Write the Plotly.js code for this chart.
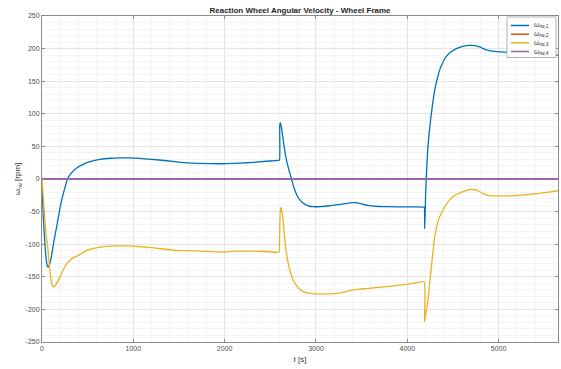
<!DOCTYPE html>
<html>
<head>
<meta charset="utf-8">
<script src="https://cdn.plot.ly/plotly-3.0.1.min.js"></script>
<style>
  html, body { margin: 0; padding: 0; background: #fff; }
  #chart { width: 561px; height: 369px; }
</style>
</head>
<body>
<div id="chart"></div>
<script>
// Wheel 1 angular velocity [rpm] vs time [s]
const t1 = [0, 15, 30, 45, 60, 70, 85, 100, 120, 140, 161, 190, 216, 250, 279, 320, 380, 450, 525, 635, 750, 853, 960,
  1072, 1200, 1364, 1500, 1655, 1850, 2020, 2170, 2312, 2450, 2585, 2600,
  2604, 2612, 2625, 2640, 2660, 2677, 2700, 2732, 2768, 2795, 2823, 2860, 2896, 2930, 2968, 3050, 3151, 3280,
  3406, 3450, 3479, 3530, 3589, 3680, 3771, 4000, 4180, 4186,
  4190, 4195, 4200, 4212, 4226, 4245, 4264, 4280, 4300, 4325, 4354, 4390, 4428, 4480, 4537, 4610, 4683, 4740,
  4792, 4830, 4866, 4930, 5011, 5100, 5193, 5372, 5500, 5650];
const w1 = [-12, -60, -95, -122, -134, -135, -130, -121, -104, -88, -73, -50, -32, -14, 0, 9, 17, 22.5, 26.5, 30, 31.8, 32.5, 32.4,
  31.7, 30.2, 28, 26, 24.2, 23.5, 23.5, 24.3, 25.6, 27.2, 28.5, 29,
  84, 86, 76, 61, 42, 29, 16, 0, -17, -26, -32, -37, -40, -41.8, -42.5, -42.3, -41, -38.5,
  -36.3, -36.5, -37.3, -39.5, -41, -42.2, -42.5, -42.7, -43, -43,
  -76, -55, -25, 15, 49.5, 78, 101, 118, 136, 152, 167, 179, 188, 195, 200, 203.5, 205, 204.5,
  202.5, 200, 198, 196, 195, 194.5, 194, 192, 191, 190];

// Wheel 2 angular velocity [rpm]
const t2 = [0, 5650];
const w2 = [0, 0];

// Wheel 3 angular velocity [rpm]
const t3 = [0, 15, 29, 45, 66, 80, 95, 108, 120, 135, 150, 175, 200, 230, 277, 340, 416, 470, 525, 620, 744, 850, 927,
  1050, 1182, 1300, 1437, 1600, 1729, 1850, 1984, 2040, 2093, 2200, 2312, 2450, 2596,
  2600, 2606, 2612, 2620, 2634, 2645, 2659, 2675, 2695, 2720, 2750, 2785, 2823, 2870, 2932, 2990, 3042, 3130,
  3224, 3320, 3406, 3480, 3553, 3660, 3771, 3880, 3990, 4090, 4183,
  4188, 4205, 4226, 4245, 4264, 4282, 4300, 4325, 4354, 4391, 4430, 4464, 4500, 4550, 4609, 4655, 4701, 4740,
  4774, 4820, 4865, 4920, 4975, 5080, 5193, 5320, 5449, 5550, 5650];
const w3 = [0, -30, -58, -85, -109, -132, -150, -161, -165, -165, -162, -157, -149, -140, -129, -121, -116, -111, -108, -105, -103, -102.5, -102.7,
  -103.5, -105, -107, -109, -110, -110.5, -111.5, -112, -111.5, -111, -110.5, -110.5, -111.2, -112,
  -100, -60, -43.4, -46, -55, -72, -93.6, -112, -129, -143, -155, -163, -169, -173, -175.4, -176.3, -176.5, -176.2,
  -175.4, -173, -170, -168.8, -168, -166.5, -165, -163.3, -161.5, -159.5, -157.5,
  -219, -205, -185.6, -160, -134.5, -110, -88.5, -71, -58, -47.5, -38, -32, -27, -23, -19.5, -17, -16, -16.5,
  -18, -21.5, -24.5, -25.8, -26, -26, -25.5, -24, -22, -20, -18];

// Wheel 4 angular velocity [rpm]
const t4 = [0, 5650];
const w4 = [0, 0];

const names = ['ω<sub>rw,1</sub>', 'ω<sub>rw,2</sub>', 'ω<sub>rw,3</sub>', 'ω<sub>rw,4</sub>'];
const colors = ['#0072BD', '#D95319', '#EDB120', '#9A63AD'];

const xTicks = [0, 1000, 2000, 3000, 4000, 5000];
const yTicks = [-250, -200, -150, -100, -50, 0, 50, 100, 150, 200, 250];

const font = 'Liberation Sans, Arial, Helvetica, sans-serif';

const series = [[t1, w1], [t2, w2], [t3, w3], [t4, w4]];
const traces = series.map(([x, y], i) => ({
  type: 'scatter',
  mode: 'lines',
  x: x,
  y: y,
  name: names[i],
  showlegend: false,
  line: { color: colors[i], width: i === 3 ? 1.8 : 1.3, shape: 'spline', smoothing: 0.5 }
}));

// Boxed legend in the upper-right corner of the axes (paper coordinates)
const legBox = { x0: 0.9012, x1: 0.9961, y0: 0.8727, y1: 0.9969 };
const legRows = [0.9709, 0.9442, 0.9178, 0.8911];
const legLine = [0.9089, 0.9438];
const legText = 0.9496;

const shapes = [{
  type: 'rect', xref: 'paper', yref: 'paper',
  x0: legBox.x0, x1: legBox.x1, y0: legBox.y0, y1: legBox.y1,
  line: { color: '#b3b3b3', width: 1 }, fillcolor: '#ffffff', layer: 'above'
}].concat(legRows.map((yy, i) => ({
  type: 'line', xref: 'paper', yref: 'paper',
  x0: legLine[0], x1: legLine[1], y0: yy, y1: yy,
  line: { color: colors[i], width: 1.5 }, layer: 'above'
})));

const annotations = legRows.map((yy, i) => ({
  xref: 'paper', yref: 'paper', x: legText, y: yy,
  xanchor: 'left', yanchor: 'middle', showarrow: false,
  text: names[i], font: { family: font, size: 7, color: '#333333' }
}));

const axisCommon = {
  showline: true,
  mirror: 'ticks',
  linecolor: '#8a8a8a',
  linewidth: 1,
  ticks: 'inside',
  ticklen: 3,
  tickcolor: '#8a8a8a',
  tickfont: { family: font, size: 7, color: '#4d4d4d' },
  showgrid: true,
  gridcolor: '#e4e4e4',
  gridwidth: 1,
  zeroline: false
};

const layout = {
  width: 561,
  height: 369,
  margin: { l: 42, r: 3, t: 16, b: 27 },
  paper_bgcolor: '#ffffff',
  plot_bgcolor: '#ffffff',
  showlegend: false,
  shapes: shapes,
  annotations: annotations,
  title: {
    text: '<b>Reaction Wheel Angular Velocity - Wheel Frame</b>',
    font: { family: font, size: 8, color: '#262626' },
    x: 0.5, xref: 'paper', xanchor: 'center',
    y: 0.973, yref: 'container', yanchor: 'middle'
  },
  xaxis: Object.assign({}, axisCommon, {
    range: [0, 5650],
    tickvals: xTicks,
    ticktext: xTicks.map(v => String(v)),
    minor: { dtick: 200, tick0: 0, showgrid: true, gridcolor: '#f4f4f4', gridwidth: 1, ticks: '' },
    title: { text: 't [s]', font: { family: font, size: 8, color: '#333' }, standoff: 4 }
  }),
  yaxis: Object.assign({}, axisCommon, {
    range: [-250, 250],
    tickvals: yTicks,
    ticktext: yTicks.map(v => String(v)),
    minor: { dtick: 10, tick0: 0, showgrid: true, gridcolor: '#f4f4f4', gridwidth: 1, ticks: '' },
    title: { text: 'ω<sub>rw</sub> [rpm]', font: { family: font, size: 8, color: '#333' }, standoff: 3 }
  })
};

Plotly.newPlot('chart', traces, layout, { displayModeBar: false, staticPlot: true });
</script>
</body>
</html>
